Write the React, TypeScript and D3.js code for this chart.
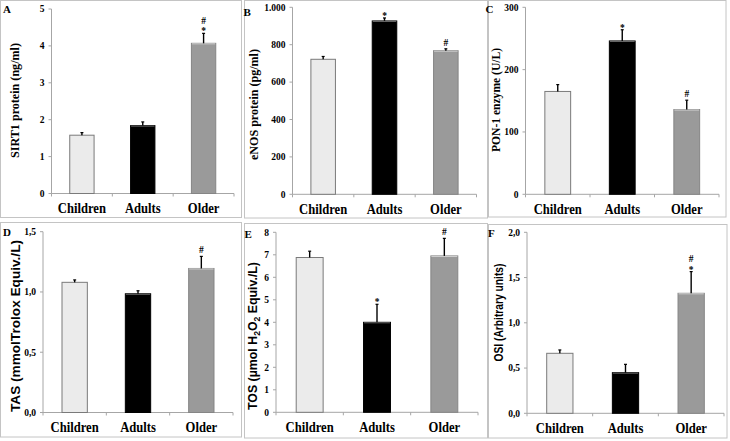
import React, { useEffect, useRef } from 'react';
import * as d3 from 'd3';

const categories = ['Children', 'Adults', 'Older'];
const barFills = ['#ebebeb', '#000000', '#9a9a9a'];
const barStrokes = ['#7a7a7a', '#000000', '#858585'];

// A - SIRT1
const sirt1Values = [1.58, 1.84, 4.07];
const sirt1Errors = [0.07, 0.1, 0.27];
const sirt1Marks = [[], [], ['*', '#']];
const sirt1Ticks = [0, 1, 2, 3, 4, 5];
const sirt1TickLabels = ['0', '1', '2', '3', '4', '5'];

// B - eNOS
const enosValues = [722, 927, 768];
const enosErrors = [15, 16, 10];
const enosMarks = [[], ['*'], ['#']];
const enosTicks = [0, 200, 400, 600, 800, 1000];
const enosTickLabels = ['0', '200', '400', '600', '800', '1.000'];

// C - PON-1
const ponValues = [165, 246, 136];
const ponErrors = [11, 18, 15];
const ponMarks = [[], ['*'], ['#']];
const ponTicks = [0, 100, 200, 300];
const ponTickLabels = ['0', '100', '200', '300'];

// D - TAS
const tasValues = [1.08, 0.985, 1.195];
const tasErrors = [0.02, 0.025, 0.1];
const tasMarks = [[], [], ['#']];
const tasTicks = [0, 0.5, 1, 1.5];
const tasTickLabels = ['0,0', '0,5', '1,0', '1,5'];

// E - TOS
const tosValues = [6.88, 4.0, 6.95];
const tosErrors = [0.28, 0.8, 0.78];
const tosMarks = [[], ['*'], ['#']];
const tosTicks = [0, 1, 2, 3, 4, 5, 6, 7, 8];
const tosTickLabels = ['0', '1', '2', '3', '4', '5', '6', '7', '8'];

// F - OSI
const osiValues = [0.663, 0.449, 1.326];
const osiErrors = [0.037, 0.092, 0.24];
const osiMarks = [[], [], ['*', '#']];
const osiTicks = [0, 0.5, 1, 1.5, 2];
const osiTickLabels = ['0,0', '0,5', '1,0', '1,5', '2,0'];

const serif = '"Liberation Serif", "Times New Roman", serif';
const sans = '"Liberation Sans", Arial, sans-serif';

const panels = [
  {letter: 'A', values: sirt1Values, errors: sirt1Errors, marks: sirt1Marks, ticks: sirt1Ticks, tickLabels: sirt1TickLabels,
    box: [0.5, 0.5, 241.5, 217.5], left: 51.5, right: 234, top: 9, bottom: 193.5, letterPos: [3, 13],
    title: [{t: 'SIRT1 protein (ng/ml)'}], titleFont: serif, titleX: 19, titleY: 100.5, titleLen: 115},
  {letter: 'B', values: enosValues, errors: enosErrors, marks: enosMarks, ticks: enosTicks, tickLabels: enosTickLabels,
    box: [244.5, 0.5, 487.5, 218], left: 292.5, right: 476.5, top: 7.3, bottom: 194.3, letterPos: [243.5, 15.5],
    title: [{t: 'eNOS protein (pg/ml)'}], titleFont: serif, titleX: 257.5, titleY: 104.5, titleLen: 111},
  {letter: 'C', values: ponValues, errors: ponErrors, marks: ponMarks, ticks: ponTicks, tickLabels: ponTickLabels,
    box: [488.5, 0.5, 726, 217], left: 525.5, right: 719, top: 7.3, bottom: 194.3, letterPos: [485.5, 12.7],
    title: [{t: 'PON-1 enzyme (U/L)'}], titleFont: serif, titleX: 499.5, titleY: 100, titleLen: 104},
  {letter: 'D', values: tasValues, errors: tasErrors, marks: tasMarks, ticks: tasTicks, tickLabels: tasTickLabels,
    box: [0.5, 222.5, 241.5, 437], left: 43, right: 233, top: 231.7, bottom: 412.5, letterPos: [3, 236],
    title: [{t: 'TAS (mmolTrolox Equiv./L)'}], titleFont: sans, titleX: 19.5, titleY: 326, titleLen: 172},
  {letter: 'E', values: tosValues, errors: tosErrors, marks: tosMarks, ticks: tosTicks, tickLabels: tosTickLabels,
    box: [244.5, 223.5, 487.5, 438], left: 276, right: 478, top: 232.3, bottom: 412.3, letterPos: [244.5, 238],
    title: [{t: 'TOS (\u00b5mol H'}, {t: '2', sub: true}, {t: 'O'}, {t: '2', sub: true}, {t: ' Equiv./L)'}],
    titleFont: sans, titleX: 256.5, titleY: 336, titleLen: 148},
  {letter: 'F', values: osiValues, errors: osiErrors, marks: osiMarks, ticks: osiTicks, tickLabels: osiTickLabels,
    box: [488.5, 224.5, 727, 438], left: 527, right: 724, top: 232.3, bottom: 413.3, letterPos: [488, 237],
    title: [{t: 'OSI (Arbitrary units)'}], titleFont: sans, titleX: 503, titleY: 312.5, titleLen: 98},
];

const drawPanel = (svg, p) => {
  const g = svg.append('g');

  // panel frame
  g.append('rect')
    .attr('x', p.box[0]).attr('y', p.box[1])
    .attr('width', p.box[2] - p.box[0]).attr('height', p.box[3] - p.box[1])
    .attr('fill', 'none').attr('stroke', '#c4c4c4');

  const x = d3.scaleBand().domain(categories).range([p.left, p.right]);
  const y = d3.scaleLinear().domain([0, d3.max(p.ticks)]).range([p.bottom, p.top]);
  const barW = x.bandwidth() * 0.4;
  const cx = c => x(c) + x.bandwidth() / 2;

  // y axis
  g.append('line')
    .attr('x1', p.left).attr('x2', p.left)
    .attr('y1', y(0)).attr('y2', y(d3.max(p.ticks)))
    .attr('stroke', '#a6a6a6');
  p.ticks.forEach((t, i) => {
    g.append('line')
      .attr('x1', p.left - 3).attr('x2', p.left)
      .attr('y1', y(t)).attr('y2', y(t))
      .attr('stroke', '#a6a6a6');
    g.append('text')
      .attr('x', p.left - 7).attr('y', y(t)).attr('dy', '0.35em')
      .attr('text-anchor', 'end')
      .style('font-family', serif).style('font-weight', 'bold').style('font-size', '9.5px')
      .text(p.tickLabels[i]);
  });

  // x axis
  g.append('line')
    .attr('x1', p.left).attr('x2', p.right)
    .attr('y1', y(0)).attr('y2', y(0))
    .attr('stroke', '#a6a6a6');
  [p.left, ...categories.map(c => x(c) + x.bandwidth())].forEach(xx => {
    g.append('line')
      .attr('x1', xx).attr('x2', xx)
      .attr('y1', y(0)).attr('y2', y(0) + 3)
      .attr('stroke', '#a6a6a6');
  });

  // bars
  categories.forEach((c, i) => {
    const v = p.values[i];
    g.append('rect')
      .attr('x', cx(c) - barW / 2).attr('y', y(v))
      .attr('width', barW).attr('height', y(0) - y(v))
      .attr('fill', barFills[i]).attr('stroke', barStrokes[i]).attr('stroke-width', 1);
    if (i > 0) {
      g.append('line')
        .attr('x1', cx(c) - barW / 2 + 0.5).attr('x2', cx(c) + barW / 2 - 0.5)
        .attr('y1', y(v) + 0.5).attr('y2', y(v) + 0.5)
        .attr('stroke', i === 2 ? '#d2d2d2' : '#6a6a6a').attr('stroke-width', 1);
    }

    // error bar (upper only)
    const top = y(v + p.errors[i]);
    g.append('line')
      .attr('x1', cx(c)).attr('x2', cx(c))
      .attr('y1', y(v)).attr('y2', top)
      .attr('stroke', '#000').attr('stroke-width', 1.4);
    g.append('line')
      .attr('x1', cx(c) - 1.5).attr('x2', cx(c) + 1.5)
      .attr('y1', top).attr('y2', top)
      .attr('stroke', '#000').attr('stroke-width', 1.2);

    // significance marks, listed bottom to top
    let base = null;
    p.marks[i].forEach((m, k) => {
      base = k === 0 ? (m === '*' ? top + 1 : top - 3) : base - 10.8;
      g.append('text')
        .attr('x', cx(c)).attr('y', base)
        .attr('text-anchor', 'middle')
        .style('font-family', serif).style('font-weight', 'bold').style('font-size', '9.5px')
        .text(m);
    });

    // category label
    g.append('text')
      .attr('transform', `translate(${cx(c)},${y(0) + 19.5}) scale(0.87,1)`)
      .attr('text-anchor', 'middle')
      .style('font-family', serif).style('font-weight', 'bold').style('font-size', '14.5px')
      .text(c);
  });

  // y axis title
  const title = g.append('text')
    .attr('transform', `translate(${p.titleX},${p.titleY}) rotate(-90)`)
    .attr('text-anchor', 'middle')
    .attr('textLength', p.titleLen).attr('lengthAdjust', 'spacingAndGlyphs')
    .style('font-family', p.titleFont)
    .style('font-weight', 'bold')
    .style('font-size', '13px');
  p.title.forEach(part => {
    const ts = title.append('tspan').text(part.t);
    if (part.sub) ts.attr('dy', 3).style('font-size', '9px');
    else if (part !== p.title[0]) ts.attr('dy', -3);
  });

  // panel letter
  g.append('text')
    .attr('x', p.letterPos[0]).attr('y', p.letterPos[1])
    .style('font-family', serif).style('font-weight', 'bold').style('font-size', '11px')
    .text(p.letter);
};

const App = () => {
  const svgRef = useRef(null);

  useEffect(() => {
    const svg = d3.select(svgRef.current);
    svg.selectAll('*').remove();
    svg.append('rect').attr('width', 730).attr('height', 441).attr('fill', '#fff');
    panels.forEach(p => drawPanel(svg, p));
  }, []);

  return (
    <svg ref={svgRef} width={730} height={441}
         style={{position: 'absolute', left: 0, top: 0, display: 'block'}}></svg>
  );
};

export default App;
